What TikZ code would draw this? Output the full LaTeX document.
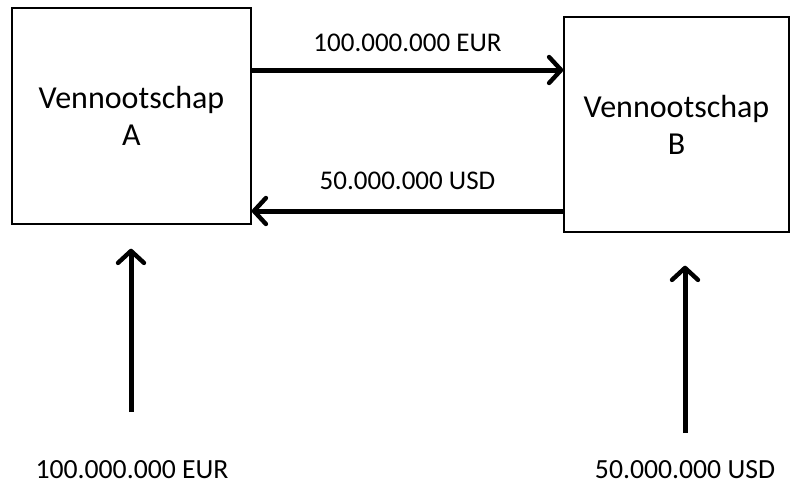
\documentclass[tikz,border=0pt]{standalone}
\usepackage{fontspec}
\setmainfont{Carlito}
\usetikzlibrary{arrows.meta}

\tikzset{
  company/.style={draw, line width=1.4pt, align=center, inner sep=0pt,
    font=\fontsize{32}{37}\selectfont},
  amount/.style={font=\fontsize{27}{30}\selectfont, inner sep=0pt},
  bigamount/.style={amount, font=\fontsize{27.7}{30}\selectfont},
  flow/.style={line width=5pt,
    -{Straight Barb[length=12pt,width=26pt,line width=4.4pt,round]}}
}

\begin{document}
\begin{tikzpicture}[x=1pt,y=-1pt]
		%%%%% START %%%%%
		\useasboundingbox (0,0) rectangle (791,488);
		
		\node[company, minimum width=239pt, minimum height=216pt] (A) at (131.5,116) {Vennootschap\\A};
		\node[company, minimum width=225pt, minimum height=215pt] (B) at (676.5,124.5) {Vennootschap\\B};
		
		\draw[flow] (A.east |- 0,70) -- (B.west |- 0,70)
			node[amount, midway, above=16pt] (eurAB) {100.000.000 EUR};
		\draw[flow] (B.west |- 0,211) -- (A.east |- 0,211)
			node[amount, midway, above=19pt] (usdBA) {50.000.000 USD};
		
		\node[bigamount] (eurIn) at (132,470) {100.000.000 EUR};
		\node[bigamount] (usdIn) at (685,470) {50.000.000 USD};
		
		\coordinate (srcA) at (131,412);
		\coordinate (srcB) at (685,433);
		\draw[flow, shorten >=24pt] (srcA) -- (srcA |- A.south);
		\draw[flow, shorten >=33pt] (srcB) -- (srcB |- B.south);
		%%%%% END %%%%%
\end{tikzpicture}
\end{document}
